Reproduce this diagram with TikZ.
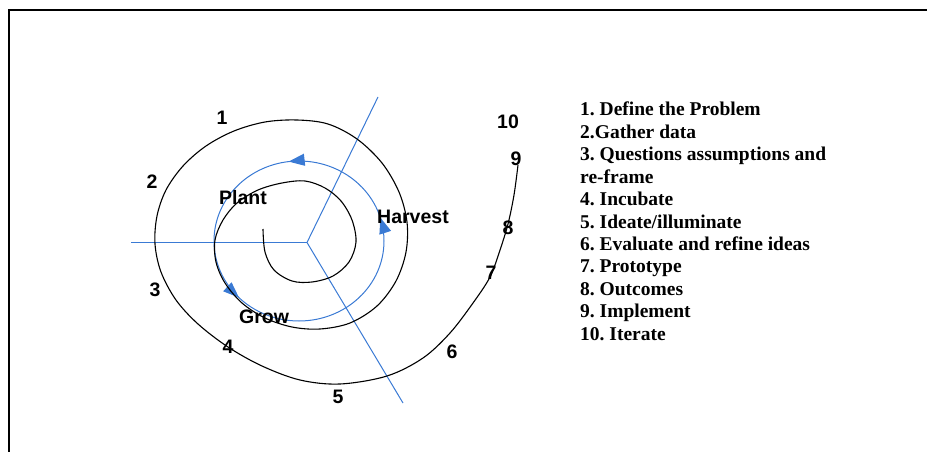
\documentclass[tikz,border=0pt]{standalone}
\usepackage{fontspec}
\usepackage{tikz}
\usetikzlibrary{arrows.meta,positioning,decorations.markings}

\newfontfamily\labelface{Liberation Sans}
\newfontfamily\listface{Liberation Serif}
\newcommand{\tagfont}{\labelface\bfseries\fontsize{19.5}{22}\selectfont}
\newcommand{\stepfont}{\listface\bfseries\fontsize{19.5}{22.4}\selectfont}
\definecolor{axisblue}{RGB}{58,122,212}
\frenchspacing

\begin{document}
\begin{tikzpicture}[
        x=1pt, y=-1pt,
        tag/.style={font=\tagfont, inner sep=0pt},
        stepline/.style={font=\stepfont, inner sep=0pt, anchor=base west},
        axis/.style={draw=axisblue, line width=1pt},
        spiral/.style={draw=black, line width=1.1pt},
        cycle/.style={draw=axisblue, line width=1pt, postaction={decorate},
            decoration={markings,
                mark=at position 0.377 with {\arrowreversed{Triangle[length=16pt,width=12pt]}},
                mark=at position 0.73 with {\arrowreversed{Triangle[length=16pt,width=12pt]}},
                mark=at position 0.954 with {\arrowreversed{Triangle[length=16pt,width=12pt]}}}},
        >=Triangle
    ]
        \useasboundingbox (0,0) rectangle (927,452);

        % Frame
        \draw[line width=2pt] (9,452) -- (9,10) -- (927,10);

        % Axes
        \coordinate (hub) at (307,242.5);
        \coordinate (west end) at (131,242.5);
        \coordinate (north end) at (378,97);
        \coordinate (south end) at (403,403);
        \draw[axis] (hub) -- (west end);
        \draw[axis] (hub) -- (north end);
        \draw[axis] (hub) -- (south end);

        % Cycle
        \draw[cycle] (299,241) ellipse [x radius=85, y radius=80];

        % Spiral
        \draw[spiral] plot[smooth, tension=0.55] coordinates {
            (263,229) (265,252) (274,270) (292,281) (312,282) (333,276)
            (349,262) (356,242) (352,220) (341,201) (325,188) (305,181)
            (282,183) (258,190) (237,203) (223,220) (215,240) (216,262)
            (225,283) (242,303) (265,318) (292,327) (320,329) (350,323)
            (377,306) (396,281) (406,252) (407,222) (399,192) (382,163)
            (357,139) (328,124) (297,120) (265,122) (234,131) (206,146)
            (183,166) (166,190) (157,216) (155,244) (161,272) (176,300)
            (198,324) (228,347) (262,366) (300,380) (340,384) (387,376)
            (423,358) (450,333) (473,303) (490,277) (500,250) (508,224)
            (514,195) (518,165)};

        % Phases
        \node[tag] (plant) at (243,198) {Plant};
        \node[tag] (harvest) at (413,217) {Harvest};
        \node[tag] (grow) at (264,317) {Grow};

        % Step numbers
        \node[tag] (n1) at (222,118) {1};
        \node[tag] (n2) at (152,182) {2};
        \node[tag] (n3) at (155,290) {3};
        \node[tag] (n4) at (228,347) {4};
        \node[tag] (n5) at (338,397) {5};
        \node[tag] (n6) at (452,352) {6};
        \node[tag] (n7) at (491,273) {7};
        \node[tag] (n8) at (508,228) {8};
        \node[tag] (n9) at (516,159) {9};
        \node[tag] (n10) at (508,122) {10};

        % Legend
        \node[stepline] (s1) at (580,116) {1. Define the Problem};
        \node[stepline] (s2) [below=22.4pt of s1.base west, anchor=base west] {2.Gather data};
        \node[stepline] (s3) [below=22.4pt of s2.base west, anchor=base west] {3. Questions assumptions and};
        \node[stepline] (s3b) [below=22.4pt of s3.base west, anchor=base west] {re-frame};
        \node[stepline] (s4) [below=22.4pt of s3b.base west, anchor=base west] {4. Incubate};
        \node[stepline] (s5) [below=22.4pt of s4.base west, anchor=base west] {5. Ideate/illuminate};
        \node[stepline] (s6) [below=22.4pt of s5.base west, anchor=base west] {6. Evaluate and refine ideas};
        \node[stepline] (s7) [below=22.4pt of s6.base west, anchor=base west] {7. Prototype};
        \node[stepline] (s8) [below=22.4pt of s7.base west, anchor=base west] {8. Outcomes};
        \node[stepline] (s9) [below=22.4pt of s8.base west, anchor=base west] {9. Implement};
        \node[stepline] (s10) [below=22.4pt of s9.base west, anchor=base west] {10. Iterate};
    \end{tikzpicture}
\end{document}
